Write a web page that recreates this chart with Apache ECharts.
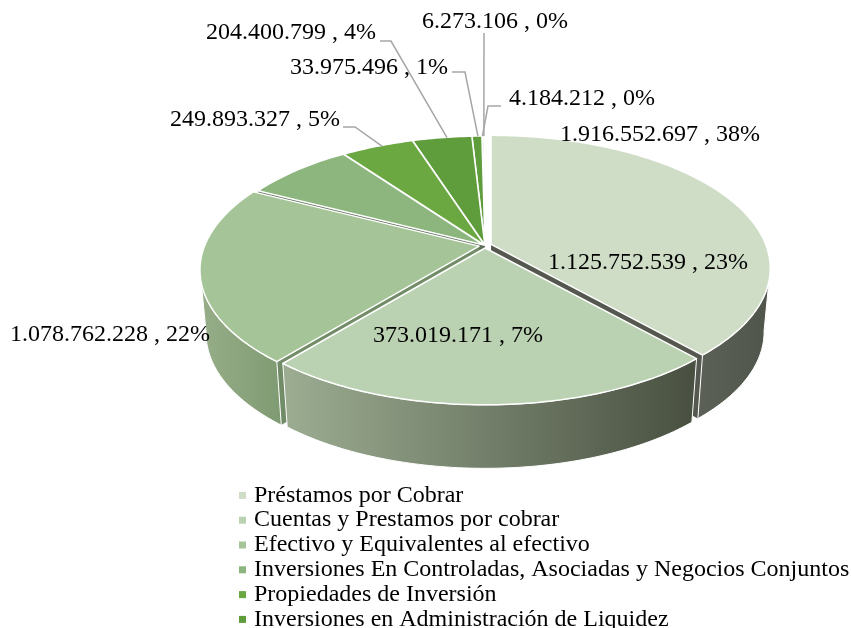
<!DOCTYPE html>
<html>
<head>
<meta charset="utf-8">
<style>
    html, body { margin: 0; padding: 0; background: #fff; }
    #chart { width: 851px; height: 628px; }
</style>
<script src="https://cdn.jsdelivr.net/npm/echarts@6/dist/echarts.min.js"></script>
</head>
<body>
<div id="chart"></div>
<script>
    // values clockwise from 12 o'clock
    const sliceValues = [1916552697, 1125752539, 1078762228, 373019171, 249893327, 204400799, 33975496, 6273106, 4184212];
    // the last three legend rows are cut off in the picture
    const legendNames = [
        'Préstamos por Cobrar',
        'Cuentas y Prestamos por cobrar',
        'Efectivo y Equivalentes al efectivo',
        'Inversiones En Controladas, Asociadas y Negocios Conjuntos',
        'Propiedades de Inversión',
        'Inversiones en Administración de Liquidez'
    ];

    const total = sliceValues.reduce((a, b) => a + b, 0);

    // look of the slices
    const topColors = ['#CFDCC6', '#BBD2B2', '#A5C497', '#8CB67D', '#6BA842', '#5F9C3C', '#5F9C3C', '#5F9C3C', '#5F9C3C'];
    const faceColors = ['#55584F', '#6F8A65', '#728C68', '#5F7059', '#5F7059', '#5F7059', '#5F7059', '#5F7059', '#5F7059'];
    const wallStops = [['#5C6157', '#50554B'], ['#9CAD92', '#484F40'], ['#97AE89', '#7F9B72']];
    const explode = [6.5, 5, 6, 1.5, 1, 1, 1, 1, 1];
    const drawOrder = [8, 7, 6, 5, 4, 3, 0, 2, 1];

    // perspective ellipse
    const cx = 485, cy = 245.5, rx = 274.6, ry = 128.6, persp = 0.18;
    const depth = 63.5, bottomScale = 0.978;
    const wallFrom = 100, wallTo = 260;

    function project(deg) {
        const t = deg * Math.PI / 180;
        const u = Math.sin(t), v = -Math.cos(t);
        const s = 1 / (1 - persp * v);
        return [cx + rx * u * s, cy + ry * v * s];
    }

    function sliceAngles(i) {
        let before = 0;
        for (let k = 0; k < i; k++) before += sliceValues[k];
        return [before / total * 360, (before + sliceValues[i]) / total * 360];
    }

    function sliceOffset(i) {
        const a = sliceAngles(i);
        const t = (a[0] + a[1]) / 2 * Math.PI / 180;
        return [explode[i] * Math.sin(t), -explode[i] * Math.cos(t) * 0.5];
    }

    function lower(p) {
        return [cx + (p[0] - cx) * bottomScale, p[1] + depth];
    }

    function arc(from, to) {
        const pts = [];
        const n = Math.max(2, Math.ceil(to - from));
        for (let k = 0; k <= n; k++) pts.push(project(from + (to - from) * k / n));
        return pts;
    }

    function poly(points, off, fill, lineWidth) {
        return {
            type: 'polygon',
            shape: { points: points.map(p => [p[0] + off[0], p[1] + off[1]]) },
            style: { fill: fill, stroke: '#fff', lineWidth: lineWidth, lineJoin: 'round' }
        };
    }

    function renderSlice(i) {
        const a = sliceAngles(i);
        const off = sliceOffset(i);
        const apex = [cx, cy];
        const children = [];
        [a[0], a[1]].forEach(deg => {
            const edge = project(deg);
            children.push(poly([apex, edge, lower(edge), lower(apex)], off, faceColors[i], 0));
        });
        const from = Math.max(a[0], wallFrom), to = Math.min(a[1], wallTo);
        if (to > from) {
            const top = arc(from, to);
            const bottom = top.map(lower).reverse();
            children.push(poly(top.concat(bottom), off, new echarts.graphic.LinearGradient(0, 0, 1, 0, [
                { offset: 0, color: wallStops[i][0] },
                { offset: 1, color: wallStops[i][1] }
            ]), 1));
        }
        children.push(poly([apex].concat(arc(a[0], a[1])), off, topColors[i], 1.5));
        return { type: 'group', children: children };
    }

    function formatValue(v) {
        const text = String(v).replace(/\B(?=(\d{3})+$)/g, '.');
        return text + ' , ' + Math.round(v / total * 100) + '%';
    }

    // label spot per slice, left edge and vertical middle
    const labelSpots = [[560, 135], [548, 263], [10, 335], [373, 336], [170, 120], [206, 33], [290, 68], [422, 22], [509, 99]];
    // leader lines: start and elbow, the end is on the slice rim
    const leaders = {
        4: [[343, 127], [355, 127]],
        5: [[380, 41], [391, 41]],
        6: [[452, 72], [465, 72]],
        7: [[484, 33]],
        8: [[501, 106], [488, 106]]
    };
    const rimShift = { 4: 5, 5: 5, 6: 1, 7: 1, 8: -2 };

    function renderLabels() {
        const children = [];
        Object.keys(leaders).forEach(key => {
            const i = +key;
            const a = sliceAngles(i);
            const off = sliceOffset(i);
            const rim = project((a[0] + a[1]) / 2);
            children.push({
                type: 'polyline',
                shape: { points: leaders[i].concat([[rim[0] + off[0] + rimShift[i], rim[1] + off[1]]]) },
                style: { fill: 'none', stroke: '#A6A6A6', lineWidth: 1.5 }
            });
        });
        sliceValues.forEach((v, i) => {
            children.push({
                type: 'text',
                x: labelSpots[i][0],
                y: labelSpots[i][1],
                style: {
                    text: formatValue(v),
                    font: '24px "Liberation Serif"',
                    fill: '#000',
                    textAlign: 'left',
                    textVerticalAlign: 'middle'
                }
            });
        });
        return { type: 'group', children: children };
    }

    const series = drawOrder.map(i => ({
        type: 'custom',
        name: legendNames[i] || 'slice' + i,
        coordinateSystem: 'none',
        itemStyle: { color: topColors[i] },
        data: [[sliceValues[i]]],
        silent: true,
        renderItem: () => renderSlice(i)
    }));
    series.push({
        type: 'custom',
        name: 'labels',
        coordinateSystem: 'none',
        data: [[0]],
        silent: true,
        renderItem: renderLabels
    });

    const chart = echarts.init(document.getElementById('chart'), null, { renderer: 'canvas' });
    chart.setOption({
        animation: false,
        backgroundColor: '#fff',
        legend: {
            data: legendNames,
            orient: 'vertical',
            left: 239,
            top: 483,
            height: 300,
            itemWidth: 7,
            itemHeight: 7,
            itemGap: 0,
            icon: 'rect',
            selectedMode: false,
            padding: 0,
            textStyle: {
                fontFamily: 'Liberation Serif',
                fontSize: 24,
                lineHeight: 24.8,
                color: '#000',
                padding: [0, 0, 0, 3]
            }
        },
        series: series
    });
</script>
</body>
</html>
